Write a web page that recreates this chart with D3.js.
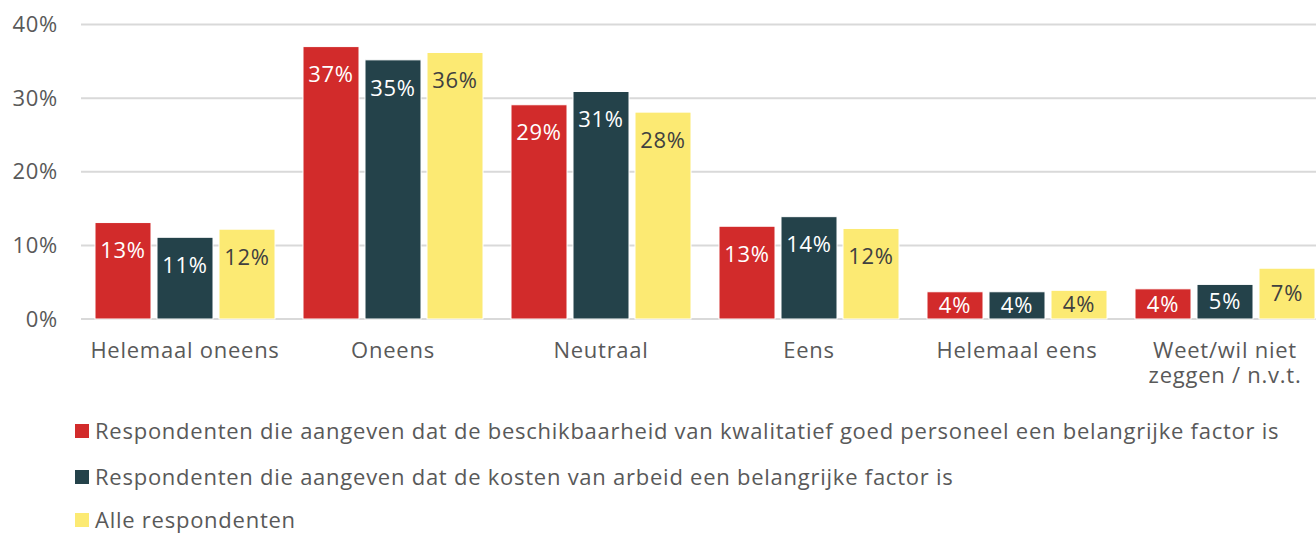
<!DOCTYPE html>
<html>
<head>
<meta charset="utf-8">
<script src="https://cdn.jsdelivr.net/npm/d3@7"></script>
<style>
  body { margin: 0; background: #fff; }
  svg { display: block; font-family: "Open Sans", Lato, sans-serif; letter-spacing: 0.75px; }
</style>
</head>
<body>
<div id="chart"></div>
<script>
const categories = ["Helemaal oneens", "Oneens", "Neutraal", "Eens", "Helemaal eens", "Weet/wil niet|zeggen / n.v.t."];
const seriesNames = [
    "Respondenten die aangeven dat de beschikbaarheid van kwalitatief goed personeel een belangrijke factor is",
    "Respondenten die aangeven dat de kosten van arbeid een belangrijke factor is",
    "Alle respondenten"
];
const personeel = [0.131, 0.370, 0.291, 0.126, 0.037, 0.041];
const kosten    = [0.111, 0.352, 0.309, 0.139, 0.037, 0.047];
const alle      = [0.122, 0.362, 0.281, 0.123, 0.039, 0.069];
const yTicks = [0, 0.1, 0.2, 0.3, 0.4];

const COLORS = ["#d22b2b", "#24424a", "#fcea73"];
const LABEL_FILL = ["#ffffff", "#ffffff", "#404040"];
const TEXT = "#595959";
const FS = "22px";

const W = 1316, H = 533;
const series = [personeel, kosten, alle];

const svg = d3.select("#chart").append("svg")
    .attr("width", W).attr("height", H)
    .attr("viewBox", `0 0 ${W} ${H}`);

// category bands run past the right edge — the reference is cropped there
const x0 = d3.scaleBand().domain(categories).range([81, 1329]);
const x1 = d3.scaleBand().domain(d3.range(3)).range([14, 194]).paddingInner(6 / 62);
const y = d3.scaleLinear().domain([0, 0.4]).range([319, 24.5]);

// gridlines
svg.append("g").selectAll("line").data(yTicks).join("line")
    .attr("x1", 81).attr("x2", W)
    .attr("y1", d => y(d)).attr("y2", d => y(d))
    .attr("stroke", "#d9d9d9").attr("stroke-width", 2);

// y axis labels
svg.append("g").selectAll("text").data(yTicks).join("text")
    .attr("x", 58).attr("y", d => y(d))
    .attr("dy", "0.35em").attr("text-anchor", "end")
    .attr("fill", TEXT).style("font-size", FS)
    .text(d3.format(".0%"));

// bars
const rows = categories.map((c, i) => ({ cat: c, vals: series.map(s => s[i]) }));
const groups = svg.append("g").selectAll("g").data(rows).join("g")
    .attr("transform", d => `translate(${x0(d.cat)},0)`);

groups.selectAll("rect").data(d => d.vals.map((v, k) => ({ v, k }))).join("rect")
    .attr("x", d => x1(d.k)).attr("width", x1.bandwidth())
    .attr("y", d => y(d.v)).attr("height", d => y(0) - y(d.v))
    .attr("fill", d => COLORS[d.k])
    .attr("stroke", "#fff").attr("stroke-width", 1);

// value labels: near the top, centred when the bar is short
groups.selectAll("text").data(d => d.vals.map((v, k) => ({ v, k }))).join("text")
    .attr("x", d => x1(d.k) + x1.bandwidth() / 2)
    .attr("y", d => Math.min(y(d.v) + 28, (y(d.v) + y(0)) / 2))
    .attr("dy", "0.35em").attr("text-anchor", "middle")
    .attr("fill", d => LABEL_FILL[d.k]).style("font-size", FS)
    .text(d => d3.format(".0%")(d.v));

// category labels
svg.append("g").selectAll("text").data(categories).join("text")
    .attr("text-anchor", "middle").attr("fill", TEXT).style("font-size", FS)
    .each(function(d) {
        d.split("|").forEach((line, i) => {
            d3.select(this).append("tspan")
                .attr("x", x0(d) + x0.bandwidth() / 2)
                .attr("y", 350 + i * 25).attr("dy", "0.35em")
                .text(line);
        });
    });

// legend
const leg = svg.append("g").selectAll("g").data(seriesNames).join("g")
    .attr("transform", (d, i) => `translate(75,${[431, 477, 520][i]})`);
leg.append("rect").attr("y", -7).attr("width", 14).attr("height", 14)
    .attr("fill", (d, i) => COLORS[i]);
leg.append("text").attr("x", 20).attr("dy", "0.35em")
    .attr("fill", TEXT).style("font-size", FS)
    .text(d => d);
</script>
</body>
</html>
